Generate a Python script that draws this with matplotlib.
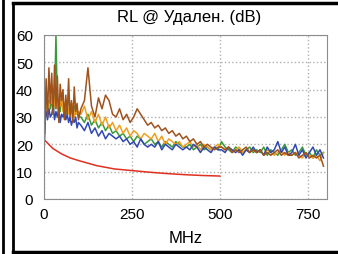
import numpy as np
import matplotlib
matplotlib.use('Agg')
import matplotlib.pyplot as plt
from matplotlib.lines import Line2D

plt.rcParams['font.family'] = ['Liberation Sans', 'DejaVu Sans']

# frequency grid (MHz): fine below 100, coarser above
freq = list(range(2, 100, 4)) + list(range(105, 800, 10))

green = [22, 38, 34, 36, 33, 37, 31, 36, 60, 34, 35, 32, 37, 33, 35, 31, 34, 36, 32, 33, 30, 34, 31, 32, 30,
         30, 28, 31, 27, 29, 26, 28, 25, 27, 24,
         25, 23, 24, 22, 23, 21, 23, 22, 20, 21,
         22, 20, 21, 19, 21, 20, 19, 21, 20, 19,
         19, 20, 18, 19, 20, 18, 19, 18, 19, 18,
         21, 19, 18, 17, 19, 18, 17, 18, 19, 17,
         18, 17, 19, 16, 18, 17, 16, 18, 20, 17,
         18, 16, 17, 19, 16, 17, 15, 18, 16, 17]
orange = [28, 34, 36, 33, 38, 35, 40, 34, 37, 33, 36, 34, 38, 32, 35, 33, 36, 31, 34, 32, 35, 30, 33, 31, 32,
          31, 34, 29, 32, 28, 31, 27, 30, 26, 28,
          25, 27, 24, 26, 23, 25, 24, 22, 24, 23,
          22, 24, 21, 23, 20, 22, 21, 20, 21, 19,
          20, 21, 19, 20, 18, 20, 19, 18, 19, 20,
          19, 18, 19, 17, 18, 19, 17, 18, 17, 18,
          17, 18, 16, 18, 17, 16, 17, 18, 16, 17,
          16, 17, 16, 15, 17, 16, 15, 16, 14, 17]
blue = [30, 32, 29, 33, 30, 31, 34, 29, 32, 30, 33, 28, 31, 30, 32, 29, 31, 28, 30, 27, 29, 28, 30, 26, 28,
        27, 25, 28, 24, 26, 23, 25, 22, 24, 23,
        22, 23, 21, 22, 20, 21, 19, 22, 20, 19,
        20, 19, 21, 18, 20, 19, 18, 20, 19, 18,
        19, 18, 20, 19, 17, 19, 18, 17, 19, 18,
        18, 17, 19, 18, 17, 18, 16, 18, 17, 19,
        17, 18, 16, 19, 17, 18, 21, 17, 19, 16,
        17, 20, 16, 18, 15, 17, 19, 16, 18, 15]
brown = [24, 44, 30, 48, 35, 46, 31, 49, 33, 45, 28, 42, 36, 40, 29, 38, 31, 44, 30, 36, 28, 41, 32, 35, 29,
         33, 36, 48, 34, 30, 37, 33, 38, 36, 31,
         30, 33, 29, 31, 28, 30, 33, 31, 29, 27,
         28, 26, 27, 25, 26, 24, 25, 23, 24, 22,
         23, 21, 22, 20, 21, 19, 20, 19, 18, 19,
         19, 18, 19, 17, 18, 17, 18, 19, 17, 18,
         17, 18, 16, 17, 16, 17, 18, 16, 17, 16,
         16, 17, 15, 16, 17, 15, 16, 15, 16, 12]

# limit line
lim_freq = [2, 25, 50, 75, 100, 150, 200, 250, 300, 350, 400, 450, 500]
lim_val = [21.5, 18.5, 16.5, 15, 14, 12.2, 11, 10.4, 9.8, 9.3, 8.9, 8.6, 8.4]

fig = plt.figure(figsize=(3.38, 2.55), dpi=100)
ax = fig.add_axes([44/338, 55/255, 283/338, 164/255])

for y, c in [(green, '#3a9a3a'), (orange, '#f0a020'), (blue, '#3048b0'), (brown, '#a0521d')]:
    ax.plot(freq, y, color=c, lw=1.1)
ax.plot(lim_freq, lim_val, color='#e03020', lw=1.1)

ax.set_xlim(0, 805)
ax.set_ylim(0, 60)
ax.set_xticks([0, 250, 500, 750])
ax.set_yticks([0, 10, 20, 30, 40, 50, 60])
ax.grid(True, color='#b0b0b0', ls=':', lw=1)
ax.tick_params(length=0, labelsize=11)
ax.tick_params(axis='x', pad=6)
ax.tick_params(axis='y', pad=8)
for s in ax.spines.values():
    s.set_color('#8c8c8c')
ax.set_xlabel('MHz', fontsize=12, labelpad=6)
fig.text(0.56, 0.93, 'RL @ Удален. (dB)', ha='center', va='center', fontsize=12)

# panel frame
fig.add_artist(Line2D([2.5/338, 2.5/338], [0, 1], color='black', lw=2))
fig.add_artist(Line2D([12.5/338, 12.5/338], [0.008, 0.984], color='black', lw=2))
fig.add_artist(Line2D([12.5/338, 1], [0.984, 0.984], color='black', lw=2.5))
fig.add_artist(Line2D([12.5/338, 1], [0.008, 0.008], color='black', lw=2.5))

fig.savefig('out.png', dpi=100)
